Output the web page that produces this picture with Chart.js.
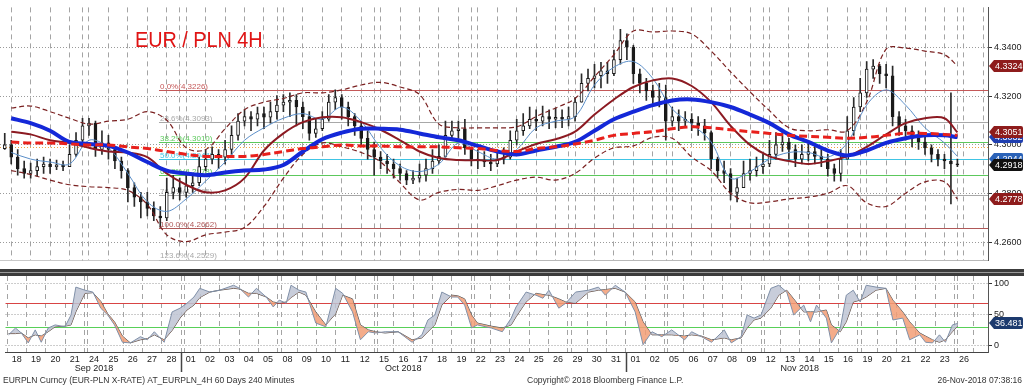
<!DOCTYPE html>
<html>
<head>
<meta charset="utf-8">
<script src="https://cdn.jsdelivr.net/npm/chart.js@4.4.1/dist/chart.umd.min.js"></script>
<style>
body { margin: 0; background: #fff; }
#wrap { position: relative; width: 1024px; height: 385px; overflow: hidden; background: #fff; }
#main { position: absolute; left: 0; top: 0; }
#stoch { position: absolute; left: 0; top: 268px; }
</style>
</head>
<body>
<div id="wrap">
  <canvas id="main" width="1024" height="268"></canvas>
  <canvas id="stoch" width="1024" height="117"></canvas>
</div>
<script>
// trading days shown on the axis (one per day, 4H bars grouped 3 per day here)
const dayLabels = ['18','19','20','21','24','25','26','27','28','01','02','03','04','05','08','09','10','11','12',
  '15','16','17','18','19','22','23','24','25','26','29','30','31','01','02','05','06','07','08','09',
  '12','13','14','15','16','19','20','21','22','23','26'];
const monthLabels = ['Sep 2018', 'Oct 2018', 'Nov 2018'];
const monthStart = [0, 9, 32];
const weekStarts = [4, 9, 14, 19, 24, 29, 34, 39, 44, 49];
const yTicks = [4.26, 4.28, 4.30, 4.32, 4.34];
const stochTicks = [0, 50, 100];
const stochLevels = [70, 30];

// candles
const firstOpen = 4.2985;
const closes = [4.3000,4.2950,4.2903,4.2883,4.2895,4.2911,4.2922,4.2911,4.2918,4.2911,
  4.2961,4.3019,4.3078,4.3089,4.2981,4.3008,4.2981,4.2934,4.2895,4.2825,
  4.2786,4.2767,4.2740,4.2709,4.2701,4.2806,4.2825,4.2806,4.2833,4.2845,
  4.2911,4.2942,4.2961,4.2950,4.2981,4.3039,4.3097,4.3116,4.3105,4.3128,
  4.3113,4.3136,4.3163,4.3175,4.3182,4.3155,4.3116,4.3047,4.3066,4.3105,
  4.3175,4.3194,4.3155,4.3116,4.3078,4.3027,4.2981,4.2950,4.2934,4.2922,
  4.2903,4.2883,4.2856,4.2864,4.2876,4.2903,4.2934,4.2953,4.3039,4.3058,
  4.3066,4.2988,4.2942,4.2934,4.2930,4.2922,4.2942,4.2950,4.3019,4.3058,
  4.3078,4.3105,4.3097,4.3116,4.3105,4.3113,4.3105,4.3116,4.3175,4.3252,
  4.3272,4.3283,4.3303,4.3291,4.3349,4.3427,4.3400,4.3291,4.3252,4.3221,
  4.3194,4.3194,4.3097,4.3116,4.3097,4.3105,4.3089,4.3078,4.3050,4.2942,
  4.2895,4.2883,4.2806,4.2825,4.2883,4.2895,4.2911,4.2922,4.2961,4.3000,
  4.3012,4.2981,4.2942,4.2961,4.2973,4.2953,4.2942,4.2903,4.2883,4.2942,
  4.3058,4.3155,4.3213,4.3310,4.3322,4.3291,4.3283,4.3116,4.3078,4.3058,
  4.3027,4.3012,4.2988,4.2961,4.2942,4.2934,4.2922,4.2918];
const highs = [4.3047,4.3019,4.2981,4.2934,4.2926,4.2942,4.2950,4.2942,4.2938,4.2934,
  4.3000,4.3050,4.3109,4.3109,4.3097,4.3058,4.3039,4.2988,4.2950,4.2903,
  4.2845,4.2806,4.2806,4.2767,4.2748,4.2864,4.2876,4.2864,4.2876,4.2883,
  4.2950,4.2981,4.2992,4.2981,4.3019,4.3078,4.3128,4.3144,4.3136,4.3155,
  4.3155,4.3175,4.3202,4.3206,4.3213,4.3206,4.3175,4.3136,4.3105,4.3136,
  4.3206,4.3225,4.3206,4.3175,4.3128,4.3097,4.3058,4.3012,4.2973,4.2961,
  4.2942,4.2922,4.2895,4.2895,4.2922,4.2942,4.2981,4.3000,4.3097,4.3097,
  4.3097,4.3105,4.2988,4.2981,4.2973,4.2961,4.2981,4.2988,4.3058,4.3105,
  4.3128,4.3155,4.3144,4.3159,4.3144,4.3151,4.3144,4.3155,4.3194,4.3291,
  4.3310,4.3330,4.3338,4.3338,4.3388,4.3473,4.3454,4.3407,4.3310,4.3272,
  4.3245,4.3252,4.3245,4.3155,4.3144,4.3136,4.3128,4.3116,4.3105,4.3058,
  4.2950,4.2934,4.2903,4.2864,4.2934,4.2942,4.2950,4.2961,4.3019,4.3050,
  4.3058,4.3027,4.3000,4.3000,4.3012,4.3000,4.2981,4.2961,4.2922,4.2981,
  4.3116,4.3194,4.3272,4.3341,4.3349,4.3330,4.3330,4.3322,4.3136,4.3105,
  4.3078,4.3058,4.3050,4.3000,4.2981,4.2961,4.3213,4.2942];
const lows = [4.2981,4.2922,4.2876,4.2864,4.2864,4.2872,4.2883,4.2883,4.2899,4.2895,
  4.2911,4.2953,4.3008,4.3039,4.2953,4.2961,4.2942,4.2903,4.2864,4.2767,
  4.2748,4.2701,4.2709,4.2690,4.2662,4.2690,4.2779,4.2775,4.2786,4.2806,
  4.2833,4.2895,4.2922,4.2903,4.2922,4.2950,4.3019,4.3078,4.3058,4.3078,
  4.3066,4.3089,4.3105,4.3136,4.3116,4.3078,4.3066,4.3019,4.3031,4.3058,
  4.3097,4.3144,4.3105,4.3078,4.3039,4.3000,4.2942,4.2876,4.2903,4.2883,
  4.2864,4.2856,4.2837,4.2841,4.2849,4.2852,4.2883,4.2922,4.2950,4.3019,
  4.3027,4.2961,4.2914,4.2903,4.2911,4.2895,4.2911,4.2922,4.2942,4.3000,
  4.3039,4.3066,4.3058,4.3078,4.3066,4.3070,4.3070,4.3078,4.3097,4.3175,
  4.3221,4.3233,4.3233,4.3252,4.3283,4.3330,4.3349,4.3252,4.3213,4.3182,
  4.3163,4.3155,4.3019,4.3078,4.3058,4.3070,4.3058,4.3039,4.3019,4.2903,
  4.2864,4.2845,4.2775,4.2767,4.2825,4.2856,4.2872,4.2883,4.2911,4.2942,
  4.2973,4.2942,4.2911,4.2922,4.2934,4.2922,4.2911,4.2872,4.2852,4.2852,
  4.2942,4.3039,4.3136,4.3194,4.3272,4.3252,4.3233,4.3078,4.3039,4.3019,
  4.2992,4.2981,4.2961,4.2930,4.2914,4.2903,4.2759,4.2911];

// studies, one reading per trading day
const fastMA = [4.2969,4.2942,4.2930,4.2922,4.3019,4.2988,4.2883,4.2767,4.2728,4.2779,
  4.2852,4.2930,4.3019,4.3070,4.3109,4.3128,4.3105,4.3155,4.3097,4.2988,
  4.2914,4.2891,4.2922,4.3008,4.2973,4.2942,4.2981,4.3070,4.3097,4.3116,
  4.3245,4.3318,4.3341,4.3272,4.3147,4.3085,4.3012,4.2864,4.2891,4.2942,
  4.2969,4.2969,4.2950,4.3008,4.3163,4.3225,4.3163,4.3070,4.3008,4.2953];
const midMA = [4.3054,4.3043,4.3019,4.3008,4.2988,4.2973,4.2969,4.2950,4.2883,4.2837,
  4.2806,4.2814,4.2864,4.2977,4.3047,4.3093,4.3113,4.3113,4.3093,4.3062,
  4.3019,4.2973,4.2946,4.2938,4.2938,4.2938,4.2973,4.3004,4.3023,4.3054,
  4.3124,4.3186,4.3237,4.3264,4.3272,4.3241,4.3175,4.3078,4.3000,4.2953,
  4.2934,4.2922,4.2934,4.2953,4.2992,4.3043,4.3089,4.3109,4.3109,4.3051];
const slowMA = [4.3109,4.3089,4.3058,4.3012,4.3004,4.2996,4.2969,4.2930,4.2895,4.2883,
  4.2876,4.2887,4.2895,4.2899,4.2918,4.2973,4.3023,4.3050,4.3066,4.3066,
  4.3062,4.3047,4.3031,4.3019,4.2996,4.2973,4.2961,4.2977,4.2992,4.3012,
  4.3058,4.3105,4.3136,4.3163,4.3182,4.3186,4.3175,4.3155,4.3124,4.3089,
  4.3043,4.3012,4.2977,4.2957,4.2977,4.3008,4.3027,4.3039,4.3039,4.3032];
const slowestMA = [4.3012,4.3008,4.3008,4.3004,4.3000,4.3000,4.2992,4.2985,4.2973,4.2961,
  4.2953,4.2953,4.2953,4.2961,4.2973,4.2985,4.2992,4.3000,4.2996,4.2996,
  4.2992,4.2992,4.2992,4.2988,4.2985,4.2977,4.2973,4.2985,4.2992,4.3004,
  4.3019,4.3039,4.3047,4.3054,4.3066,4.3074,4.3070,4.3062,4.3054,4.3047,
  4.3039,4.3035,4.3031,4.3027,4.3031,4.3039,4.3047,4.3047,4.3043,4.3039];
const bbUpper = [4.3151,4.3159,4.3136,4.3109,4.3085,4.3097,4.3105,4.3136,4.3101,4.2988,
  4.2981,4.3066,4.3144,4.3175,4.3190,4.3213,4.3213,4.3225,4.3245,4.3256,
  4.3237,4.3206,4.3085,4.3070,4.3070,4.3070,4.3074,4.3116,4.3151,4.3190,
  4.3279,4.3369,4.3466,4.3462,4.3466,4.3454,4.3384,4.3299,4.3217,4.3140,
  4.3070,4.3058,4.3062,4.3058,4.3175,4.3392,4.3396,4.3384,4.3369,4.3324];
const bbLower = [4.2895,4.2879,4.2856,4.2837,4.2829,4.2825,4.2814,4.2756,4.2632,4.2604,
  4.2632,4.2643,4.2662,4.2748,4.2864,4.2961,4.3008,4.2992,4.2969,4.2930,
  4.2845,4.2775,4.2806,4.2818,4.2814,4.2833,4.2856,4.2868,4.2856,4.2883,
  4.2946,4.2988,4.2996,4.3031,4.3027,4.2950,4.2895,4.2802,4.2763,4.2767,
  4.2779,4.2786,4.2802,4.2833,4.2763,4.2748,4.2802,4.2849,4.2849,4.2778];

// fibonacci retracement of the 4.2662 - 4.3226 swing
const fibPct = [0, 23.6, 38.2, 50, 61.8, 76.4, 100, 123.6];
const fibValues = [4.3226, 4.3093, 4.3010, 4.2944, 4.2878, 4.2795, 4.2662, 4.2529];
const fibStartX = 8.1;
const refLevel = 4.2992;

// stochastic (sampled in trading-day units)
const stochX = [0.08,0.44,0.74,1.10,1.46,1.77,2.13,2.49,3.00,3.31,
  3.56,4.03,4.44,4.85,5.21,5.56,5.97,6.38,6.90,7.26,
  7.62,8.13,8.54,8.95,9.31,9.67,9.97,10.49,11.00,11.72,
  12.03,12.49,12.90,13.41,13.77,14.08,14.44,14.69,15.10,15.46,
  15.97,16.49,17.00,17.36,17.87,18.28,18.69,19.05,19.56,20.23,
  20.95,21.46,21.77,22.13,22.49,23.00,23.31,23.67,24.03,24.33,
  25.05,25.62,26.08,26.33,26.85,27.36,27.72,28.03,28.54,28.90,
  29.41,30.08,30.59,30.95,31.46,31.97,32.49,32.90,33.36,33.87,
  34.38,35.05,35.41,35.92,36.44,37.10,37.46,37.97,38.28,38.64,
  39.00,39.51,39.92,40.33,40.69,41.21,41.56,41.87,42.38,42.64,
  43.10,43.41,43.77,44.13,44.44,44.95,45.46,45.82,46.33,46.69,
  47.21,47.51,47.87,48.23,48.54,48.90,49.17];
const stochK = [18,29,21,5,26,6,29,34,31,50,
  95,90,87,61,50,34,6,5,15,10,
  23,6,55,61,69,79,93,87,90,98,
  93,79,93,79,63,74,69,98,90,87,
  37,31,93,85,55,10,23,21,23,23,
  6,18,42,50,87,79,79,66,29,34,
  29,23,45,63,87,82,77,90,61,69,
  87,90,95,82,98,87,55,2,23,15,
  26,10,23,15,6,26,5,15,50,45,
  50,93,98,87,50,66,39,66,45,5,
  29,82,90,71,98,95,93,42,45,10,
  18,6,5,18,6,34,36.481];
const stochD = [20,20,21,13,18,16,23,31,32,34,
  55,85,86,72,52,39,16,5,10,12,
  18,10,25,45,58,66,78,87,90,93,
  92,85,85,79,71,69,71,78,87,82,
  55,34,52,82,76,34,26,23,21,23,
  10,13,23,34,66,82,81,76,50,37,
  32,29,34,47,71,85,83,82,76,71,
  69,87,90,91,93,87,71,39,18,18,
  18,16,18,16,10,13,10,13,29,42,
  45,61,82,90,76,55,55,55,58,34,
  23,39,71,74,79,90,93,74,55,39,
  21,16,10,6,10,23,32];

Chart.defaults.font.family = '"Liberation Sans", Arial, sans-serif';
Chart.defaults.color = '#222';

const X_MIN = -0.077, X_MAX = 50.74;
const dayBounds = dayLabels.map((d, i) => i).concat([dayLabels.length]);
const lastX = (closes.length - 0.5) / 3;
const xy = arr => arr.map((v, d) => ({ x: Math.min(d + 0.5, lastX), y: v }));

const opens = closes.map((c, i) => i === 0 ? firstOpen : closes[i - 1]);
const bodies = closes.map((c, i) => ({ x: (i + 0.5) / 3, y: [opens[i], c] }));
const wicks = closes.map((c, i) => ({ x: (i + 0.5) / 3,
  y: [Math.min(lows[i], opens[i], c), Math.max(highs[i], opens[i], c)] }));
const bodyColors = closes.map((c, i) => c >= opens[i] ? '#ffffff' : '#1a1a1a');

const gridGray = '#a4a4a4';

function weekLines(chart) {
  const { ctx, chartArea: a, scales: { x } } = chart;
  ctx.save();
  ctx.strokeStyle = gridGray;
  ctx.lineWidth = 1;
  ctx.setLineDash([5, 4]);
  weekStarts.forEach(d => {
    const px = Math.round(x.getPixelForValue(d)) + 3.5;
    ctx.beginPath();
    ctx.moveTo(px, a.top);
    ctx.lineTo(px, a.bottom);
    ctx.stroke();
  });
  ctx.restore();
}

function tag(ctx, cy, text, bg) {
  const x0 = 989, x1 = 1023, h = 6;
  ctx.save();
  ctx.fillStyle = bg;
  ctx.beginPath();
  ctx.moveTo(x0, cy);
  ctx.lineTo(x0 + 5, cy - h);
  ctx.lineTo(x1 - 2, cy - h);
  ctx.quadraticCurveTo(x1, cy - h, x1, cy - h + 2);
  ctx.lineTo(x1, cy + h - 2);
  ctx.quadraticCurveTo(x1, cy + h, x1 - 2, cy + h);
  ctx.lineTo(x0 + 5, cy + h);
  ctx.closePath();
  ctx.fill();
  ctx.fillStyle = '#fff';
  ctx.font = '9px "Liberation Sans", Arial';
  ctx.textBaseline = 'middle';
  ctx.fillText(text, 995, cy + 0.5);
  ctx.restore();
}

const fibColors = ['#c45858', '#a8a8a8', '#5cc85c', '#40c4e4', '#5cc85c', '#a8a8a8', '#b05858', '#a8a8a8'];

const mainDecor = {
  id: 'mainDecor',
  beforeDatasetsDraw(chart) {
    const { ctx, chartArea: a, scales: { x, y } } = chart;
    weekLines(chart);
    ctx.save();
    ctx.beginPath();
    ctx.rect(a.left, a.top, a.right - a.left, a.bottom - a.top);
    ctx.clip();
    // reference dotted level
    const pr = Math.round(y.getPixelForValue(refLevel)) + 0.5;
    ctx.strokeStyle = '#f0a040';
    ctx.setLineDash([1, 2]);
    ctx.beginPath(); ctx.moveTo(a.left, pr); ctx.lineTo(a.right, pr); ctx.stroke();
    ctx.setLineDash([]);
    const x0 = x.getPixelForValue(fibStartX);
    ctx.font = '8px "Liberation Sans", Arial';
    fibValues.forEach((v, k) => {
      const py = Math.round(y.getPixelForValue(v)) + 0.5;
      ctx.strokeStyle = fibColors[k];
      ctx.fillStyle = fibColors[k];
      ctx.lineWidth = 1;
      ctx.beginPath(); ctx.moveTo(x0, py); ctx.lineTo(a.right, py); ctx.stroke();
      ctx.fillText(fibPct[k].toFixed(1) + '%(' + v.toFixed(4) + ')', x0 + 1, Math.min(py - 2, a.bottom - 3));
    });
    ctx.restore();
  },
  afterDraw(chart) {
    const { ctx, scales: { y } } = chart;
    ctx.save();
    ctx.translate(135, 47);
    ctx.scale(0.9, 1);
    ctx.font = '22px "Liberation Sans", Arial';
    ctx.fillStyle = '#e01414';
    ctx.fillText('EUR / PLN 4H', 0, 0);
    ctx.restore();
    const tags = [
      [bbUpper[bbUpper.length - 1], '#8e1c1c'],
      [slowMA[slowMA.length - 1], '#1f3fb0'],
      [midMA[midMA.length - 1], '#8e1c1c'],
      [fibValues[3], '#2a62b8'],
      [closes[closes.length - 1], '#111111'],
      [bbLower[bbLower.length - 1], '#8e1c1c']
    ];
    tags.forEach(([v, bg]) => tag(ctx, Math.round(y.getPixelForValue(v)), v.toFixed(4), bg));
  }
};

const lineDs = (data, color, width, dash, order) => ({
  type: 'line', data, borderColor: color, borderWidth: width, borderDash: dash,
  pointRadius: 0, tension: 0.35, fill: false, order
});

new Chart(document.getElementById('main'), {
  type: 'bar',
  data: {
    datasets: [
      lineDs(xy(slowestMA), '#e8201c', 3, [8, 4], 0),
      lineDs(xy(slowMA), '#1428d8', 4, [], 1),
      lineDs(xy(midMA), '#8c1a22', 2, [], 2),
      lineDs(xy(fastMA), '#5a8ec8', 1, [], 3),
      lineDs(xy(bbUpper), '#7a2020', 1.2, [5, 3], 4),
      lineDs(xy(bbLower), '#7a2020', 1.2, [5, 3], 4),
      { type: 'bar', data: bodies, backgroundColor: bodyColors, borderColor: '#1a1a1a', borderWidth: 1,
        borderSkipped: false, barThickness: 3, grouped: false, minBarLength: 1, order: 6 },
      { type: 'bar', data: wicks, backgroundColor: '#2a2a2a', borderWidth: 0,
        barThickness: 1, grouped: false, order: 7 }
    ]
  },
  options: {
    responsive: false, animation: false, events: [],
    layout: { padding: { top: 0, bottom: 1, left: 0, right: 0 } },
    plugins: { legend: { display: false }, tooltip: { enabled: false } },
    scales: {
      x: {
        type: 'linear', min: X_MIN, max: X_MAX, offset: false,
        afterBuildTicks: a => { a.ticks = dayBounds.map(v => ({ value: v })); },
        afterFit: a => { a.height = 0; },
        ticks: { display: false },
        grid: { color: gridGray, drawTicks: false },
        border: { display: true, color: '#c8c8c8', dash: [5, 4] }
      },
      y: {
        position: 'right', min: 4.25266, max: 4.35626,
        afterBuildTicks: a => { a.ticks = yTicks.map(v => ({ value: v })); },
        afterFit: a => { a.width = 36; },
        ticks: { callback: v => v.toFixed(4), font: { size: 9 }, color: '#222', padding: 2 },
        grid: { color: '#9a9a9a', tickColor: '#333', tickLength: 4, tickBorderDash: [] },
        border: { display: true, color: '#555', dash: [1, 2] }
      }
    }
  },
  plugins: [mainDecor]
});

const stochDecor = {
  id: 'stochDecor',
  beforeDatasetsDraw(chart) {
    const { ctx, chartArea: a, scales: { y } } = chart;
    weekLines(chart);
    ctx.save();
    ['#d84444', '#58d058'].forEach((c, k) => {
      const py = Math.round(y.getPixelForValue(stochLevels[k])) + 0.5;
      ctx.strokeStyle = c;
      ctx.lineWidth = 1;
      ctx.beginPath(); ctx.moveTo(a.left, py); ctx.lineTo(a.right, py); ctx.stroke();
    });
    ctx.restore();
  },
  afterDraw(chart) {
    const { ctx, chartArea: a, scales: { x, y } } = chart;
    ctx.save();
    // panel separator
    ctx.fillStyle = '#3c3c3c';
    ctx.fillRect(0, 1, 1024, 3);
    ctx.fillRect(0, 5, 1024, 3);
    ctx.fillStyle = '#9a9a9a';
    ctx.fillRect(0, 4, 1024, 1);
    // month labels and month boundaries
    ctx.fillStyle = '#222';
    ctx.font = '9px "Liberation Sans", Arial';
    ctx.textAlign = 'center';
    monthLabels.forEach((m, k) => {
      const end = k + 1 < monthStart.length ? monthStart[k + 1] : dayLabels.length;
      ctx.fillText(m, x.getPixelForValue((monthStart[k] + end) / 2), 103);
    });
    ctx.strokeStyle = '#444';
    ctx.lineWidth = 1.5;
    monthStart.slice(1).forEach(d => {
      const px = Math.round(x.getPixelForValue(d)) + 0.5;
      ctx.beginPath(); ctx.moveTo(px, a.bottom); ctx.lineTo(px, a.bottom + 20); ctx.stroke();
    });
    // footer
    ctx.font = '8.5px "Liberation Sans", Arial';
    ctx.fillStyle = '#333';
    ctx.textAlign = 'left';
    ctx.fillText('EURPLN Curncy (EUR-PLN X-RATE) AT_EURPLN_4H 60 Days 240 Minutes', 3, 115);
    ctx.fillText('Copyright\u00A9 2018 Bloomberg Finance L.P.', 527, 115);
    ctx.textAlign = 'right';
    ctx.fillText('26-Nov-2018 07:38:16', 1022, 115);
    ctx.restore();
    const kLast = stochK[stochK.length - 1];
    tag(ctx, Math.round(y.getPixelForValue(kLast)), kLast.toFixed(3), '#1c3a6e');
  }
};

new Chart(document.getElementById('stoch'), {
  type: 'line',
  data: {
    datasets: [
      { data: stochX.map((x, i) => ({ x, y: stochK[i] })), borderColor: '#8090a8', borderWidth: 1,
        pointRadius: 0, tension: 0,
        fill: { target: 1, above: 'rgba(190,196,212,0.85)', below: 'rgba(242,158,118,0.85)' } },
      { data: stochX.map((x, i) => ({ x, y: stochD[i] })), borderColor: '#505050', borderWidth: 1,
        pointRadius: 0, tension: 0, fill: false }
    ]
  },
  options: {
    responsive: false, animation: false, events: [],
    layout: { padding: { top: 8, bottom: 0, left: 0, right: 0 } },
    plugins: { legend: { display: false }, tooltip: { enabled: false } },
    scales: {
      x: {
        type: 'linear', min: X_MIN, max: X_MAX, offset: false,
        afterBuildTicks: a => { a.ticks = dayBounds.map(v => ({ value: v })); },
        afterFit: a => { a.height = 33; },
        ticks: {
          autoSkip: false, maxRotation: 0, labelOffset: 9.75, padding: 2,
          font: { size: 9 }, color: '#222',
          callback: v => dayLabels[v] !== undefined ? dayLabels[v] : ''
        },
        grid: { color: gridGray, drawTicks: false },
        border: { display: true, color: '#444', dash: [5, 4] }
      },
      y: {
        position: 'right', min: -9.68, max: 112.9,
        afterBuildTicks: a => { a.ticks = stochTicks.map(v => ({ value: v })); },
        afterFit: a => { a.width = 36; },
        ticks: { font: { size: 9 }, color: '#222', padding: 2 },
        grid: { color: '#9a9a9a', tickColor: '#333', tickLength: 4, tickBorderDash: [] },
        border: { display: true, color: '#555', dash: [1, 2] }
      }
    }
  },
  plugins: [stochDecor]
});
</script>
</body>
</html>
